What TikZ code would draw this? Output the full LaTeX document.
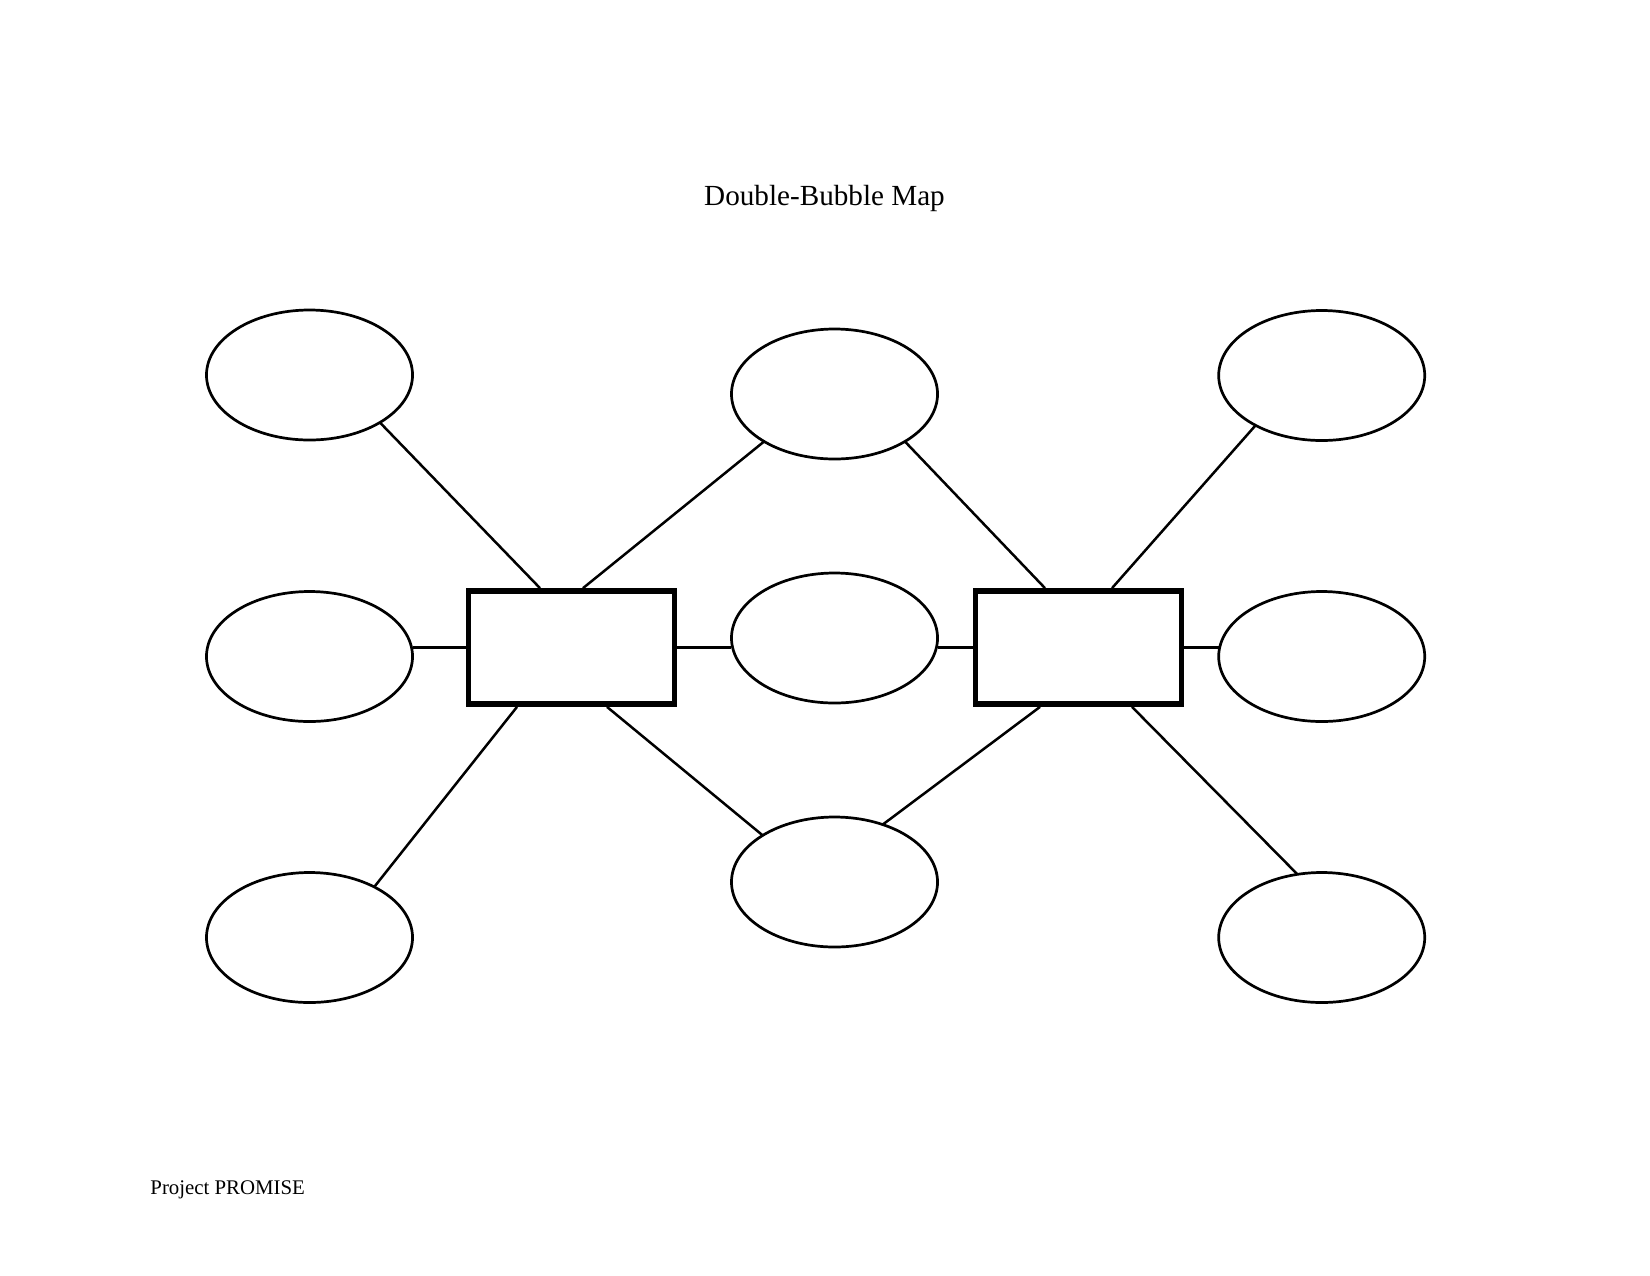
\documentclass[tikz,border=0pt]{standalone}
\usepackage{fontspec}
\setmainfont{Liberation Serif}
\usetikzlibrary{shapes.geometric, calc}

\begin{document}
\begin{tikzpicture}[
    x=0.48pt, y=-0.48pt,
    bubble/.style={draw, ellipse, line width=1.3pt, minimum width=98.9pt,
        minimum height=62.4pt, inner sep=0pt, outer sep=0pt},
    topic/.style={draw, rectangle, line width=2.8pt, minimum width=98.9pt,
        minimum height=54.2pt, inner sep=0pt},
    link/.style={line width=1.2pt}
]
\useasboundingbox (0,0) rectangle (1650,1275);
\node[font=\fontsize{14}{17}\selectfont, anchor=base] (title) at (824.5,205) {Double-Bubble Map};
% the two things compared
\node[topic] (topicL) at (571.5,647.5) {};
\node[topic] (topicR) at (1078.5,647.5) {};
% bubbles of the left thing
\node[bubble] (left1) at (309.5,375) {};
\node[bubble] (left2) at (309.5,656.5) {};
\node[bubble] (left3) at (309.5,937.5) {};
% shared bubbles
\node[bubble] (both1) at (834.5,394) {};
\node[bubble] (both2) at (834.5,638) {};
\node[bubble] (both3) at (834.5,882) {};
% bubbles of the right thing
\node[bubble] (right1) at (1321.7,375.5) {};
\node[bubble] (right2) at (1321.7,656.5) {};
\node[bubble] (right3) at (1321.7,937.5) {};
% links
\draw[link] ($(topicL.north)+(-31.5,0)$) -- (left1.-34);
\draw[link] ($(topicL.north)+(11.5,0)$) -- (both1.-146);
\draw[link] ($(topicL.south)+(-54.5,0)$) -- (left3.38);
\draw[link] ($(topicL.south)+(35.5,0)$) -- (both3.147);
\draw[link] ($(topicR.north)+(-33.5,0)$) -- (both1.-34);
\draw[link] ($(topicR.north)+(33.5,0)$) -- (right1.-143);
\draw[link] ($(topicR.south)+(-38.5,0)$) -- (both3.50);
\draw[link] ($(topicR.south)+(53.5,0)$) -- (right3.111);
\draw[link] (topicL.west) -- (topicL.west -| left2.east);
\draw[link] (topicL.east) -- (topicL.east -| both2.west);
\draw[link] (topicR.west) -- (topicR.west -| both2.east);
\draw[link] (topicR.east) -- (topicR.east -| right2.west);
\node[font=\fontsize{10}{12}\selectfont, anchor=base west, inner sep=0pt] (footer) at (150,1194) {Project PROMISE};
\end{tikzpicture}
\end{document}
